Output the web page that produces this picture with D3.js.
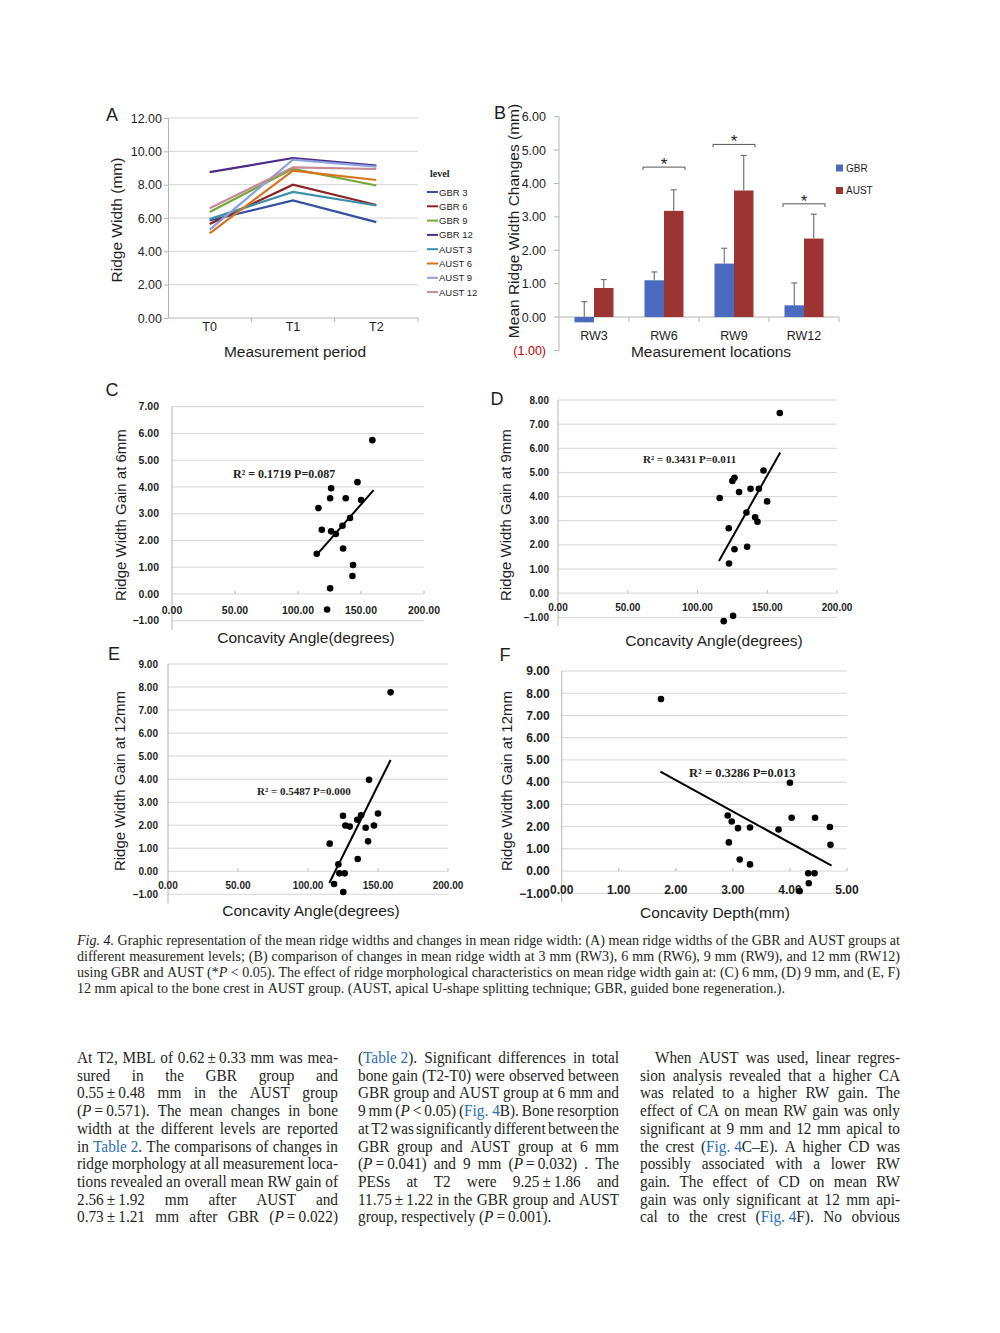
<!DOCTYPE html>
<html>
<head>
<meta charset="utf-8">
<script src="https://cdn.jsdelivr.net/npm/d3@7"></script>
<style>
body { margin: 0; background: #fff; }
svg { display: block; }
</style>
</head>
<body>
<div id="chart"></div>
<script>
// ---------- data : panel A (mean ridge width per level) ----------
var periods = ["T0", "T1", "T2"];
var levelNames = ["GBR 3", "GBR 6", "GBR 9", "GBR 12", "AUST 3", "AUST 6", "AUST 9", "AUST 12"];
var levelColors = ["#34509f", "#8c2323", "#74a83a", "#4a2c86", "#3a8fab", "#d9731f", "#8da0e0", "#c48a95"];
var gbr3  = [5.85, 7.05, 5.75];
var gbr6  = [5.64, 8.00, 6.78];
var gbr9  = [6.36, 8.95, 7.95];
var gbr12 = [8.75, 9.60, 9.14];
var aust3  = [5.93, 7.57, 6.75];
var aust6  = [5.08, 8.84, 8.28];
var aust9  = [5.30, 9.50, 9.08];
var aust12 = [6.58, 9.04, 8.94];
var levelValues = [gbr3, gbr6, gbr9, gbr12, aust3, aust6, aust9, aust12];
var ticksA = [0, 2, 4, 6, 8, 10, 12];

// ---------- data : panel B (mean change) ----------
var locations = ["RW3", "RW6", "RW9", "RW12"];
var gbrChange  = [-0.16, 1.10, 1.60, 0.35];
var austChange = [0.87, 3.18, 3.79, 2.35];
var gbrErr  = [0.62, 0.25, 0.46, 0.67];
var austErr = [0.25, 0.63, 1.05, 0.73];
var sigLevel = [null, 4.49, 5.17, 3.39];
var ticksB = [-1, 0, 1, 2, 3, 4, 5, 6];

// ---------- data : panels C-F (regressions) ----------
var angleC = [159.0, 147.2, 126.3, 125.5, 137.9, 116.2, 150.1, 141.3, 135.3, 118.9, 126.3, 130.0, 114.9, 135.8, 143.7, 143.2, 125.5, 123.1];
var gainC  = [5.75, 4.18, 3.95, 3.58, 3.58, 3.21, 3.51, 2.84, 2.55, 2.40, 2.34, 2.24, 1.50, 1.70, 1.08, 0.67, 0.21, -0.58];
var trendCx = [115.5, 160.0], trendCy = [1.50, 3.88];

var angleD = [159.0, 147.3, 126.5, 125.0, 129.8, 138.0, 144.0, 115.9, 149.9, 135.1, 141.3, 143.0, 122.4, 126.5, 135.6, 122.6, 125.5, 118.8];
var gainD  = [7.46, 5.08, 4.78, 4.65, 4.19, 4.32, 4.32, 3.94, 3.80, 3.34, 3.14, 2.96, 2.69, 1.82, 1.92, 1.23, -0.94, -1.16];
var trendDx = [115.4, 159.3], trendDy = [1.33, 5.83];

var angleE = [159.0, 143.6, 150.0, 125.0, 137.9, 135.2, 126.7, 129.8, 141.2, 147.1, 115.5, 142.9, 135.5, 121.7, 122.4, 126.2, 118.6, 125.2];
var gainE  = [7.77, 3.97, 2.51, 2.41, 2.43, 2.24, 1.99, 1.94, 1.89, 1.99, 1.20, 1.30, 0.53, 0.30, -0.09, -0.09, -0.55, -0.90];
var trendEx = [115.2, 159.0], trendEy = [-0.51, 4.83];

var depthF = [1.74, 4.00, 4.03, 4.44, 2.91, 2.98, 3.09, 3.30, 3.80, 4.70, 4.71, 2.93, 3.12, 3.30, 4.32, 4.43, 4.33, 4.17];
var gainF  = [7.74, 3.97, 2.40, 2.40, 2.50, 2.23, 1.93, 1.96, 1.87, 1.98, 1.18, 1.29, 0.52, 0.30, -0.10, -0.10, -0.55, -0.90];
var trendFx = [1.73, 4.73], trendFy = [4.47, 0.24];

var angleTicks = [0, 50, 100, 150, 200];
var depthTicks = [0, 1, 2, 3, 4, 5];

// ---------- text ----------
var captionLines = [
  {t: "^Fig. 4.^  Graphic representation of the mean ridge widths and changes in mean ridge width: (A) mean ridge widths of the GBR and AUST groups at", just: true},
  {t: "different measurement levels; (B) comparison of changes in mean ridge width at 3 mm (RW3), 6 mm (RW6), 9 mm (RW9), and 12 mm (RW12)", just: true},
  {t: "using GBR and AUST (*^P^ < 0.05). The effect of ridge morphological characteristics on mean ridge width gain at: (C) 6 mm, (D) 9 mm, and (E, F)", just: true},
  {t: "12 mm apical to the bone crest in AUST group. (AUST, apical U-shape splitting technique; GBR, guided bone regeneration.).", just: false}
];
var col1 = [
  {t: "At T2, MBL of 0.62|±|0.33 mm was mea-", just: true},
  {t: "sured in the GBR group and", just: true},
  {t: "0.55|±|0.48 mm in the AUST group", just: true},
  {t: "(^P^|=|0.571). The mean changes in bone", just: true},
  {t: "width at the different levels are reported", just: true},
  {t: "in `Table~2`. The comparisons of changes in", just: true},
  {t: "ridge morphology at all measurement loca-", just: true},
  {t: "tions revealed an overall mean RW gain of", just: true},
  {t: "2.56|±|1.92 mm after AUST and", just: true},
  {t: "0.73|±|1.21 mm after GBR (^P^|=|0.022)", just: true}
];
var col2 = [
  {t: "(`Table~2`). Significant differences in total", just: true},
  {t: "bone gain (T2-T0) were observed between", just: true},
  {t: "GBR group and AUST group at 6 mm and", just: true},
  {t: "9 mm (^P^ < 0.05) (`Fig.~4`B). Bone resorption", just: true},
  {t: "at T2 was significantly different between the", just: true},
  {t: "GBR group and AUST group at 6 mm", just: true},
  {t: "(^P^|=|0.041) and 9 mm (^P^|=|0.032) . The", just: true},
  {t: "PESs at T2 were 9.25|±|1.86 and", just: true},
  {t: "11.75|±|1.22 in the GBR group and AUST", just: true},
  {t: "group, respectively (^P^|=|0.001).", just: false}
];
var col3 = [
  {t: "When AUST was used, linear regres-", just: true, indent: 15},
  {t: "sion analysis revealed that a higher CA", just: true},
  {t: "was related to a higher RW gain. The", just: true},
  {t: "effect of CA on mean RW gain was only", just: true},
  {t: "significant at 9 mm and 12 mm apical to", just: true},
  {t: "the crest (`Fig.~4`C–E). A higher CD was", just: true},
  {t: "possibly associated with a lower RW", just: true},
  {t: "gain. The effect of CD on mean RW", just: true},
  {t: "gain was only significant at 12 mm api-", just: true},
  {t: "cal to the crest (`Fig.~4`F). No obvious", just: true}
];

// ---------- setup ----------
var W = 1000, H = 1333;
var SANS = "'Liberation Sans', Arial, sans-serif";
var SERIF = "'Liberation Serif', 'Times New Roman', serif";
var GRID = "#d6d6d6", AXIS = "#b4b4b4", INK = "#1e1e1e", BLUE = "#2a6db5";
var fmt = d3.format(".2f");

var svg = d3.select("#chart").append("svg")
    .attr("width", W)
    .attr("height", H);
svg.append("rect").attr("width", W).attr("height", H).attr("fill", "#fff");

function label(x, y, txt, size, opts) {
  opts = opts || {};
  var t = svg.append("text")
      .attr("x", x).attr("y", y)
      .attr("font-family", opts.family || SANS)
      .attr("font-size", size)
      .attr("font-weight", opts.weight || null)
      .attr("fill", opts.fill || INK)
      .attr("text-anchor", opts.anchor || "middle")
      .text(txt);
  if (opts.rotate) t.attr("transform", "rotate(-90," + x + "," + y + ")");
  return t;
}

// ---------- panel A ----------
var xA = d3.scaleBand().domain(periods).range([168, 418]);
var yA = d3.scaleLinear().domain([0, 12]).range([318, 118]);
var gA = svg.append("g");

gA.selectAll("line.grid").data(ticksA.filter(function(d){ return d > 0; })).enter()
  .append("line")
    .attr("x1", 168).attr("x2", 418)
    .attr("y1", function(d){ return yA(d); }).attr("y2", function(d){ return yA(d); })
    .attr("stroke", GRID);

var axA = gA.append("g").attr("transform", "translate(168,0)")
  .call(d3.axisLeft(yA).tickValues(ticksA).tickFormat(fmt).tickSize(4).tickSizeOuter(0).tickPadding(2));
axA.select(".domain").attr("stroke", AXIS);
axA.selectAll(".tick line").attr("stroke", AXIS);
axA.selectAll("text").attr("font-family", SANS).attr("font-size", 12.5).attr("fill", INK);

gA.append("line").attr("x1", 168).attr("x2", 418).attr("y1", yA(0)).attr("y2", yA(0)).attr("stroke", AXIS);
gA.selectAll("line.bt").data(periods).enter().append("line")
    .attr("x1", function(d){ return xA(d) + xA.bandwidth(); })
    .attr("x2", function(d){ return xA(d) + xA.bandwidth(); })
    .attr("y1", yA(0)).attr("y2", yA(0) + 4).attr("stroke", AXIS);
gA.selectAll("text.xl").data(periods).enter().append("text")
    .attr("x", function(d){ return xA(d) + xA.bandwidth() / 2; })
    .attr("y", 331)
    .attr("text-anchor", "middle")
    .attr("font-family", SANS).attr("font-size", 12.5).attr("fill", INK)
    .text(function(d){ return d; });

var lineA = d3.line()
    .x(function(d, i){ return xA(periods[i]) + xA.bandwidth() / 2; })
    .y(function(d){ return yA(d); });
gA.selectAll("path.lvl").data(levelValues).enter().append("path")
    .attr("d", lineA)
    .attr("fill", "none")
    .attr("stroke", function(d, i){ return levelColors[i]; })
    .attr("stroke-width", 2.2);

// legend A
label(430, 177, "level", 10, {family: SERIF, weight: "bold", anchor: "start"});
var legA = gA.selectAll("g.leg").data(levelNames).enter().append("g")
    .attr("transform", function(d, i){ return "translate(427," + (192 + i * 14.3) + ")"; });
legA.append("line").attr("x1", 0).attr("x2", 11).attr("stroke-width", 2)
    .attr("stroke", function(d, i){ return levelColors[i]; });
legA.append("text").attr("x", 12).attr("y", 3.5)
    .attr("font-family", SANS).attr("font-size", 9.5).attr("fill", INK)
    .text(function(d){ return d; });

label(112, 121, "A", 18);
label(122, 220, "Ridge Width (mm)", 15.5, {rotate: true});
label(295, 357, "Measurement period", 15.5);

// ---------- panel B ----------
var xB = d3.scaleBand().domain(locations).range([559, 839]);
var yB = d3.scaleLinear().domain([-1, 6]).range([350.4, 116.7]);
var barW = 19.5;
var gB = svg.append("g");

gB.append("line").attr("x1", 559).attr("x2", 559).attr("y1", yB(6)).attr("y2", yB(-1)).attr("stroke", AXIS);
gB.selectAll("line.yt").data(ticksB).enter().append("line")
    .attr("x1", 554).attr("x2", 559)
    .attr("y1", function(d){ return yB(d); }).attr("y2", function(d){ return yB(d); })
    .attr("stroke", AXIS);
gB.selectAll("text.yl").data(ticksB).enter().append("text")
    .attr("x", 546).attr("y", function(d){ return yB(d) + 4.5; })
    .attr("text-anchor", "end")
    .attr("font-family", SANS).attr("font-size", 12.5)
    .attr("fill", function(d){ return d < 0 ? "#c00000" : INK; })
    .text(function(d){ return d < 0 ? "(" + fmt(-d) + ")" : fmt(d); });

gB.append("line").attr("x1", 559).attr("x2", 839).attr("y1", yB(0)).attr("y2", yB(0)).attr("stroke", AXIS);
gB.selectAll("line.bt").data(locations).enter().append("line")
    .attr("x1", function(d){ return xB(d) + xB.bandwidth(); })
    .attr("x2", function(d){ return xB(d) + xB.bandwidth(); })
    .attr("y1", yB(0)).attr("y2", yB(0) + 5).attr("stroke", AXIS);

function cx(d) { return xB(d) + xB.bandwidth() / 2; }

gB.selectAll("rect.gbr").data(locations).enter().append("rect")
    .attr("x", function(d){ return cx(d) - barW; })
    .attr("width", barW)
    .attr("y", function(d, i){ return yB(Math.max(0, gbrChange[i])); })
    .attr("height", function(d, i){ return Math.abs(yB(gbrChange[i]) - yB(0)); })
    .attr("fill", "#4a6bbf");
gB.selectAll("rect.aust").data(locations).enter().append("rect")
    .attr("x", function(d){ return cx(d); })
    .attr("width", barW)
    .attr("y", function(d, i){ return yB(Math.max(0, austChange[i])); })
    .attr("height", function(d, i){ return Math.abs(yB(austChange[i]) - yB(0)); })
    .attr("fill", "#9c3434");

// error bars (upper)
function errBars(vals, errs, off) {
  var g = gB.append("g").attr("stroke", "#6a6a6a").attr("stroke-width", 1.1);
  locations.forEach(function(d, i){
    var x = cx(d) + off;
    g.append("line").attr("x1", x).attr("x2", x).attr("y1", yB(vals[i])).attr("y2", yB(vals[i] + errs[i]));
    g.append("line").attr("x1", x - 3).attr("x2", x + 3).attr("y1", yB(vals[i] + errs[i])).attr("y2", yB(vals[i] + errs[i]));
  });
}
errBars(gbrChange, gbrErr, -barW / 2);
errBars(austChange, austErr, barW / 2);

// significance brackets
locations.forEach(function(d, i){
  if (sigLevel[i] == null) return;
  var y = yB(sigLevel[i]), x0 = cx(d) - 21, x1 = cx(d) + 21;
  gB.append("path")
      .attr("d", "M" + x0 + "," + (y + 3) + "V" + y + "H" + x1 + "V" + (y + 3))
      .attr("fill", "none").attr("stroke", "#555").attr("stroke-width", 1);
  label(cx(d), y + 3, "*", 17);
});

gB.selectAll("text.xl").data(locations).enter().append("text")
    .attr("x", function(d){ return cx(d); })
    .attr("y", 339.5)
    .attr("text-anchor", "middle")
    .attr("font-family", SANS).attr("font-size", 12.5).attr("fill", INK)
    .text(function(d){ return d; });

// legend B
var legB = [["GBR", "#4a6bbf"], ["AUST", "#9c3434"]];
legB.forEach(function(d, i){
  var y = 168 + i * 22.5;
  gB.append("rect").attr("x", 836).attr("y", y - 3.5).attr("width", 7).attr("height", 7).attr("fill", d[1]);
  label(846, y + 3.5, d[0], 10, {anchor: "start"});
});

label(500, 119, "B", 18);
label(519, 221, "Mean Ridge Width Changes (mm)", 15.5, {rotate: true});
label(711, 357, "Measurement locations", 15.5);

// ---------- scatter panels ----------
function scatterPanel(p) {
  var g = svg.append("g");
  var x = d3.scaleLinear().domain(p.xDom).range(p.xRange);
  var y = d3.scaleLinear().domain(p.yDom).range(p.yRange);
  var yTicks = d3.range(p.yDom[0], p.yDom[1] + 1);

  g.selectAll("line.grid").data(yTicks).enter().append("line")
      .attr("x1", p.xRange[0]).attr("x2", p.xRange[1])
      .attr("y1", function(d){ return y(d); }).attr("y2", function(d){ return y(d); })
      .attr("stroke", GRID);
  g.append("line")
      .attr("x1", p.xRange[0]).attr("x2", p.xRange[0])
      .attr("y1", y(p.yDom[1])).attr("y2", y(p.yDom[0]) + 9)
      .attr("stroke", AXIS);
  g.selectAll("line.xt").data(p.xTicks.slice(1)).enter().append("line")
      .attr("x1", function(d){ return x(d); }).attr("x2", function(d){ return x(d); })
      .attr("y1", y(0)).attr("y2", y(0) - 3)
      .attr("stroke", AXIS);

  g.selectAll("text.yl").data(yTicks).enter().append("text")
      .attr("x", p.xRange[0] - p.yGap)
      .attr("y", function(d){ return y(d) + p.tick * 0.36; })
      .attr("text-anchor", "end")
      .attr("font-family", SANS).attr("font-weight", "bold").attr("font-size", p.tick).attr("fill", INK)
      .text(fmt);
  g.selectAll("text.xl").data(p.xTicks).enter().append("text")
      .attr("x", function(d){ return x(d); })
      .attr("y", y(0) + p.xDy)
      .attr("text-anchor", "middle")
      .attr("font-family", SANS).attr("font-weight", "bold").attr("font-size", p.tick).attr("fill", INK)
      .text(fmt);

  g.append("line")
      .attr("x1", x(p.tx[0])).attr("x2", x(p.tx[1]))
      .attr("y1", y(p.ty[0])).attr("y2", y(p.ty[1]))
      .attr("stroke", "#000").attr("stroke-width", 2);
  g.selectAll("circle").data(p.xs).enter().append("circle")
      .attr("cx", function(d){ return x(d); })
      .attr("cy", function(d, i){ return y(p.ys[i]); })
      .attr("r", 3.3)
      .attr("fill", "#000");

  label(p.rPos[0], p.rPos[1], p.rText, p.rSize, {family: SERIF, weight: "bold", anchor: "start"});
  label(p.letter[0], p.letter[1], p.letter[2], 18);
  label(p.yTitle[0], p.yTitle[1], p.yTitle[2], 15, {rotate: true});
  label(p.xTitle[0], p.xTitle[1], p.xTitle[2], 15.5);
}

scatterPanel({
  xDom: [0, 200], xRange: [172, 424], yDom: [-1, 7], yRange: [620.7, 406.7],
  xTicks: angleTicks, xs: angleC, ys: gainC, tx: trendCx, ty: trendCy,
  tick: 10.5, yGap: 13, xDy: 20,
  rText: "R² = 0.1719  P=0.087", rPos: [233, 478], rSize: 12,
  letter: [112, 396, "C"], yTitle: [126, 515, "Ridge Width Gain at 6mm"],
  xTitle: [306, 643, "Concavity Angle(degrees)"]
});
scatterPanel({
  xDom: [0, 200], xRange: [558, 837], yDom: [-1, 8], yRange: [617.3, 400],
  xTicks: angleTicks, xs: angleD, ys: gainD, tx: trendDx, ty: trendDy,
  tick: 10, yGap: 9, xDy: 18,
  rText: "R² = 0.3431 P=0.011", rPos: [643, 463], rSize: 11,
  letter: [497, 405, "D"], yTitle: [511, 515, "Ridge Width Gain at 9mm"],
  xTitle: [714, 646, "Concavity Angle(degrees)"]
});
scatterPanel({
  xDom: [0, 200], xRange: [168, 448], yDom: [-1, 9], yRange: [894.3, 664],
  xTicks: angleTicks, xs: angleE, ys: gainE, tx: trendEx, ty: trendEy,
  tick: 10, yGap: 10, xDy: 18,
  rText: "R² = 0.5487 P=0.000", rPos: [257, 795], rSize: 11,
  letter: [114, 660, "E"], yTitle: [125, 781, "Ridge Width Gain at 12mm"],
  xTitle: [311, 916, "Concavity Angle(degrees)"]
});
scatterPanel({
  xDom: [0, 5], xRange: [561.7, 847], yDom: [-1, 9], yRange: [893.3, 671],
  xTicks: depthTicks, xs: depthF, ys: gainF, tx: trendFx, ty: trendFy,
  tick: 12, yGap: 12, xDy: 23,
  rText: "R² = 0.3286  P=0.013", rPos: [689, 777], rSize: 12.5,
  letter: [505, 661, "F"], yTitle: [512, 781, "Ridge Width Gain at 12mm"],
  xTitle: [715, 918, "Concavity Depth(mm)"]
});

// ---------- caption and body text ----------
function addWord(word, state, size) {
  var t = svg.append("text")
      .attr("font-family", SERIF).attr("font-size", size).attr("fill", "#231f20");
  var buf = "";
  function flush() {
    if (!buf) return;
    t.append("tspan")
        .attr("font-style", state.i ? "italic" : null)
        .attr("fill", state.b ? BLUE : null)
        .text(buf);
    buf = "";
  }
  for (var k = 0; k < word.length; k++) {
    var ch = word[k];
    if (ch === "^") { flush(); state.i = !state.i; }
    else if (ch === "`") { flush(); state.b = !state.b; }
    else if (ch === "~") buf += "\u00a0";
    else if (ch === "|") buf += "\u2009";
    else buf += ch;
  }
  flush();
  return t;
}

function paragraph(lines, x0, width, y0, lh, size, sx) {
  var state = {i: false, b: false};
  lines.forEach(function(ln, k){
    var words = ln.t.split(" ").filter(function(w){ return w.length; });
    var nodes = words.map(function(w){ return addWord(w, state, size); });
    var ws = nodes.map(function(n){ return n.node().getComputedTextLength() * sx; });
    var sum = d3.sum(ws);
    var indent = ln.indent || 0;
    var avail = width - indent;
    var space = size * 0.25 * sx;
    var gap = space, scale = 1;
    if (ln.just && words.length > 1) {
      gap = (avail - sum) / (words.length - 1);
      if (gap < space * 0.6) {
        gap = space * 0.6;
        scale = (avail - gap * (words.length - 1)) / sum;
      }
    }
    var x = x0 + indent;
    nodes.forEach(function(n, i){
      var w = ws[i] * scale;
      n.attr("x", x).attr("y", y0 + k * lh)
       .attr("textLength", w).attr("lengthAdjust", "spacingAndGlyphs");
      x += w + gap;
    });
  });
}

paragraph(captionLines, 77, 823, 945, 16, 14.5, 0.97);
paragraph(col1, 77, 261, 1063, 17.7, 16, 0.955);
paragraph(col2, 358, 261, 1063, 17.7, 16, 0.955);
paragraph(col3, 640, 260, 1063, 17.7, 16, 0.955);
</script>
</body>
</html>
